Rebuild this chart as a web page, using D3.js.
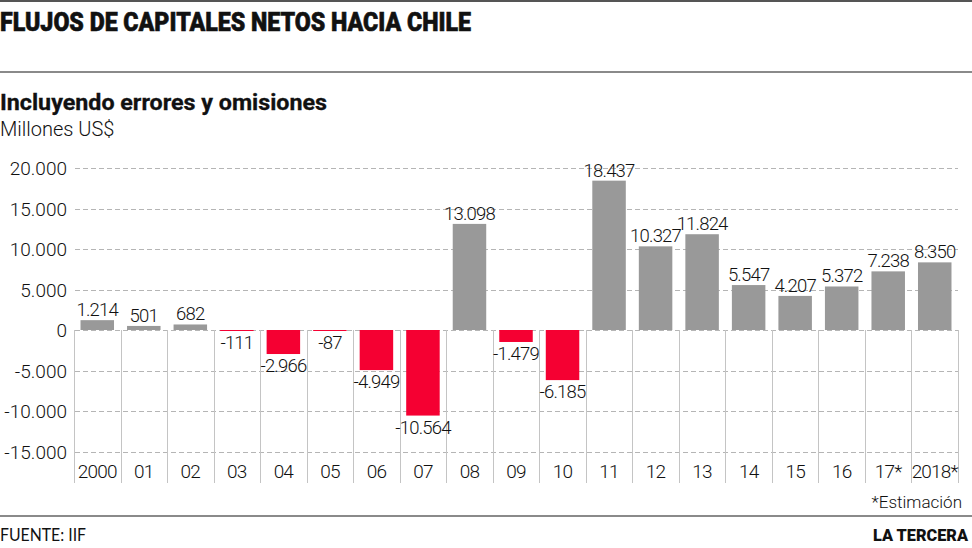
<!DOCTYPE html>
<html>
<head>
<meta charset="utf-8">
<script src="https://cdn.jsdelivr.net/npm/d3@7"></script>
<style>
  html, body { margin: 0; padding: 0; background: #fff; }
  svg { display: block; }
  .num { font-family: Roboto, "Noto Sans", sans-serif; font-weight: 300; fill: #111; }
</style>
</head>
<body>
<svg id="chart" width="972" height="548"></svg>
<script>
const categories = ["2000","01","02","03","04","05","06","07","08","09","10","11","12","13","14","15","16","17*","2018*"];
const values = [1214, 501, 682, -111, -2966, -87, -4949, -10564, 13098, -1479, -6185, 18437, 10327, 11824, 5547, 4207, 5372, 7238, 8350];
const yTicks = [20000, 15000, 10000, 5000, 0, -5000, -10000, -15000];

const title = "FLUJOS DE CAPITALES NETOS HACIA CHILE";
const subtitle = "Incluyendo errores y omisiones";
const unit = "Millones US$";
const note = "*Estimación";
const source = "FUENTE: IIF";
const brand = "LA TERCERA";

const locale = d3.formatLocale({decimal: ",", thousands: ".", grouping: [3], currency: ["", ""], minus: "-"});
const fmt = locale.format(",d");

const svg = d3.select("#chart");
const W = 972;

const x = d3.scaleBand().domain(categories).range([74, 958]).paddingInner(0.28).paddingOuter(0.14);
const y = d3.scaleLinear().domain([-15000, 20000]).range([451.5, 168]);

// top rules
svg.append("rect").attr("x", 0).attr("y", 0).attr("width", W).attr("height", 2).attr("fill", "#555");
svg.append("rect").attr("x", 0).attr("y", 71).attr("width", W).attr("height", 2).attr("fill", "#8a8a8a");
svg.append("rect").attr("x", 0).attr("y", 515).attr("width", W).attr("height", 2).attr("fill", "#8a8a8a");

svg.append("text").attr("x", 0).attr("y", 31)
  .attr("font-family", "Roboto, Lato, sans-serif").attr("font-weight", 900)
  .attr("font-size", 26).attr("fill", "#111").attr("stroke", "#111").attr("stroke-width", 0.6)
  .attr("textLength", 471).attr("lengthAdjust", "spacingAndGlyphs")
  .text(title);

svg.append("text").attr("x", 0).attr("y", 110)
  .attr("font-family", "Roboto, sans-serif").attr("font-weight", 700)
  .attr("font-size", 22).attr("fill", "#111").attr("stroke", "#111").attr("stroke-width", 0.3)
  .attr("textLength", 327).attr("lengthAdjust", "spacingAndGlyphs")
  .text(subtitle);

svg.append("text").attr("x", 0).attr("y", 136)
  .attr("class", "num").attr("font-size", 20)
  .text(unit);

// gridlines
svg.append("g").selectAll("line").data(yTicks).join("line")
  .attr("x1", 75).attr("x2", 958)
  .attr("y1", d => Math.round(y(d)) + 0.5).attr("y2", d => Math.round(y(d)) + 0.5)
  .attr("stroke", "#b5b5b5").attr("stroke-width", 1).attr("stroke-dasharray", "5,3");

// y axis labels
const yAxis = d3.axisLeft(y).tickValues(yTicks).tickSize(0).tickPadding(0).tickFormat(fmt);
const ya = svg.append("g").attr("transform", "translate(67,0)").call(yAxis);
ya.select(".domain").remove();
ya.selectAll("text").attr("class", "num").attr("font-size", 19).attr("dy", "0.36em");

// separators
const seps = categories.map((c, i) => i).concat([categories.length]);
svg.append("g").selectAll("line").data(seps).join("line")
  .attr("x1", i => Math.round(74 + i * x.step()) + 0.5)
  .attr("x2", i => Math.round(74 + i * x.step()) + 0.5)
  .attr("y1", y(0)).attr("y2", 483)
  .attr("stroke", "#c4c4c4").attr("stroke-width", 1);

// bars
svg.append("g").selectAll("rect").data(values).join("rect")
  .attr("x", (d, i) => x(categories[i]))
  .attr("width", x.bandwidth())
  .attr("y", d => y(Math.max(0, d)))
  .attr("height", d => Math.max(1, Math.abs(y(d) - y(0))))
  .attr("fill", d => d >= 0 ? "#999999" : "#f50032");

// value labels
svg.append("g").selectAll("text").data(values).join("text")
  .attr("class", "num").attr("font-size", 18.5).attr("letter-spacing", -0.8)
  .attr("text-anchor", "middle")
  .attr("x", (d, i) => x(categories[i]) + x.bandwidth() / 2)
  .attr("y", d => d >= 0 ? y(d) - 4 : Math.max(y(d), y(0) + 1) + 18)
  .text(d => fmt(d));

// x axis labels
const xAxis = d3.axisBottom(x).tickSize(0).tickPadding(0);
const xa = svg.append("g").attr("transform", "translate(0,464)").call(xAxis);
xa.select(".domain").remove();
xa.selectAll("text").attr("class", "num").attr("font-size", 19).attr("letter-spacing", -0.8).attr("dy", "0.75em");

// footer texts
svg.append("text").attr("x", 962).attr("y", 508).attr("text-anchor", "end")
  .attr("class", "num").attr("font-size", 17).text(note);
svg.append("text").attr("x", 0).attr("y", 541)
  .attr("font-family", "Lato, Roboto, sans-serif").attr("font-weight", 400)
  .attr("font-size", 17).attr("fill", "#111").attr("textLength", 86).attr("lengthAdjust", "spacingAndGlyphs")
  .text(source);
svg.append("text").attr("x", 873).attr("y", 541)
  .attr("font-family", "Roboto, Lato, sans-serif").attr("font-weight", 900)
  .attr("font-size", 17).attr("fill", "#111").attr("textLength", 95).attr("lengthAdjust", "spacingAndGlyphs")
  .text(brand);
</script>
</body>
</html>
